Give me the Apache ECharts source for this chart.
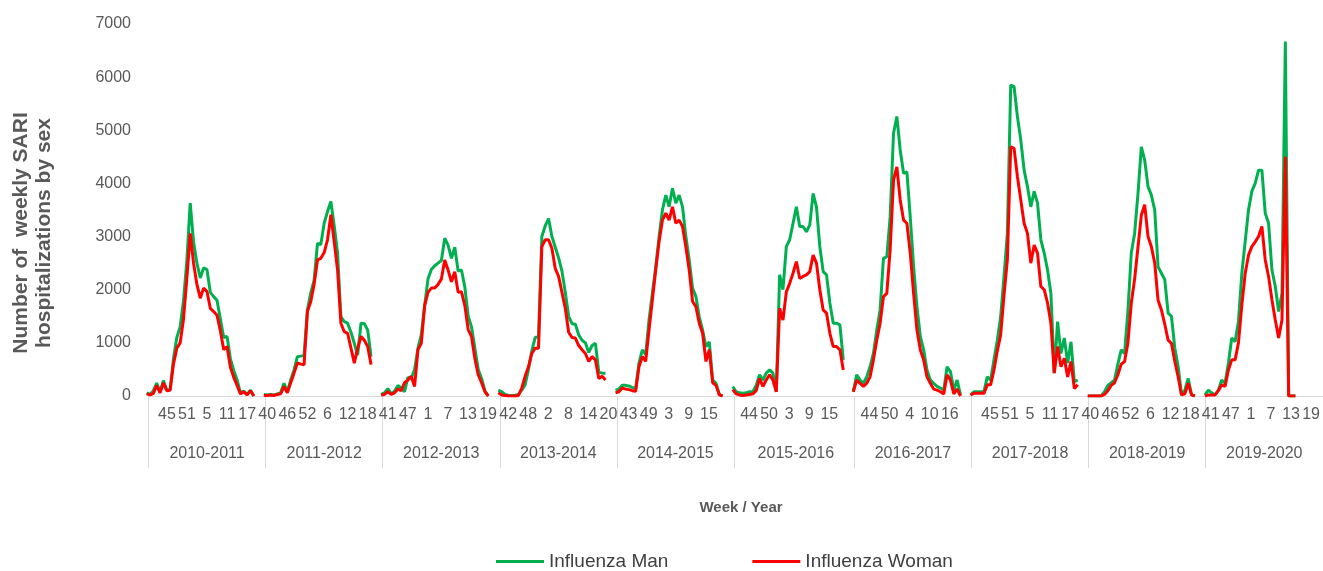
<!DOCTYPE html>
<html>
<head>
<meta charset="utf-8">
<script src="https://cdn.jsdelivr.net/npm/echarts@6/dist/echarts.min.js"></script>
<style>
  html, body { margin: 0; padding: 0; background: #fff; }
  #chart { width: 1323px; height: 571px; }
</style>
</head>
<body>
<div id="chart"></div>
<script>
// seasons and the weeks each one covers on the axis
var seasons = ['2010-2011', '2011-2012', '2012-2013', '2013-2014', '2014-2015',
               '2015-2016', '2016-2017', '2017-2018', '2018-2019', '2019-2020'];
var weeks35 = [40, 41, 42, 43, 44, 45, 46, 47, 48, 49, 50, 51, 52,
               1, 2, 3, 4, 5, 6, 7, 8, 9, 10, 11, 12, 13, 14, 15, 16, 17, 18, 19, 20, 21, 22];
var weeks36 = [40, 41, 42, 43, 44, 45, 46, 47, 48, 49, 50, 51, 52, 53,
               1, 2, 3, 4, 5, 6, 7, 8, 9, 10, 11, 12, 13, 14, 15, 16, 17, 18, 19, 20, 21, 22];

// week labels that are printed under each season
var tickWeeks = [
  [45, 51, 5, 11, 17],
  [40, 46, 52, 6, 12, 18],
  [41, 47, 1, 7, 13, 19],
  [42, 48, 2, 8, 14, 20],
  [43, 49, 3, 9, 15],
  [44, 50, 3, 9, 15],
  [44, 50, 4, 10, 16],
  [45, 51, 5, 11, 17],
  [40, 46, 52, 6, 12, 18],
  [41, 47, 1, 7, 13, 19]
];

// weekly SARI hospitalizations, men
var man2010 = [60, 30, 100, 245, 80, 290, 110, 120, 700, 1100, 1300, 1800, 2550, 3630, 2900, 2500, 2220, 2410, 2380, 1950, 1870, 1800, 1450, 1100, 1120, 700, 480, 300, 60, 90, 30, 110, 0];
var man2011 = [30, 20, 30, 20, 40, 60, 240, 80, 300, 490, 740, 750, 770, 1620, 1940, 2180, 2870, 2850, 3250, 3470, 3660, 3200, 2690, 1490, 1400, 1370, 1200, 990, 770, 1370, 1360, 1240, 740];
var man2012 = [30, 60, 140, 40, 90, 200, 150, 80, 350, 330, 500, 900, 1150, 1700, 2200, 2380, 2450, 2500, 2550, 2970, 2840, 2590, 2800, 2350, 2370, 2050, 1500, 1300, 900, 500, 330, 100, 0];
var man2013 = [110, 80, 30, 10, 10, 10, 30, 110, 210, 500, 850, 1100, 1120, 3000, 3200, 3340, 3000, 2800, 2600, 2350, 1950, 1500, 1360, 1350, 1150, 1050, 1000, 820, 950, 990, 450, 430, 430];
var man2014 = [110, 130, 200, 200, 190, 160, 140, 620, 870, 780, 1430, 1930, 2430, 3000, 3500, 3780, 3560, 3910, 3630, 3780, 3560, 3000, 2560, 2030, 1870, 1490, 1240, 930, 1020, 300, 240, 30, 0];
var man2015 = [180, 80, 60, 50, 60, 80, 80, 200, 400, 300, 430, 490, 430, 80, 2280, 2000, 2810, 2940, 3250, 3560, 3190, 3190, 3090, 3220, 3810, 3560, 2810, 2340, 2280, 1750, 1370, 1370, 1340, 680];
var man2016 = [80, 400, 300, 240, 360, 550, 800, 1240, 1620, 2590, 2620, 3370, 4940, 5260, 4630, 4190, 4220, 3370, 2430, 1680, 1120, 870, 490, 300, 240, 180, 150, 110, 550, 460, 110, 300, 20];
var man2017 = [20, 80, 80, 80, 80, 360, 300, 680, 1050, 1490, 2250, 3060, 5850, 5820, 5260, 4820, 4250, 3940, 3560, 3850, 3630, 2940, 2690, 2370, 1930, 430, 1400, 800, 1090, 620, 1020, 270, 300];
var man2018 = [0, 0, 0, 0, 0, 80, 200, 250, 300, 600, 870, 800, 1600, 2690, 3060, 3810, 4690, 4440, 3940, 3780, 3500, 2430, 2310, 2190, 1560, 1500, 900, 550, 20, 110, 330, 20, 0];
var man2019 = [20, 110, 60, 20, 110, 300, 240, 620, 1090, 1020, 1400, 2300, 2900, 3500, 3850, 4000, 4250, 4250, 3440, 3250, 2370, 2060, 1590, 1930, 6670, 0, 0, 0];

// weekly SARI hospitalizations, women
var woman2010 = [40, 20, 50, 200, 60, 250, 100, 110, 600, 900, 1000, 1450, 2220, 3060, 2500, 2100, 1840, 2030, 1970, 1650, 1590, 1520, 1230, 870, 930, 540, 350, 200, 40, 80, 20, 100, 0];
var woman2011 = [10, 10, 20, 10, 30, 40, 180, 60, 250, 430, 620, 600, 590, 1590, 1780, 2100, 2560, 2590, 2700, 2940, 3410, 2900, 2370, 1370, 1210, 1180, 900, 620, 900, 1120, 1050, 930, 590];
var woman2012 = [20, 30, 80, 30, 60, 130, 100, 250, 300, 370, 180, 870, 990, 1700, 1950, 2030, 2030, 2100, 2200, 2560, 2370, 2150, 2340, 1950, 1960, 1700, 1250, 1120, 700, 400, 250, 80, 0];
var woman2013 = [60, 20, 10, 0, 0, 0, 10, 150, 370, 550, 800, 900, 900, 2810, 2940, 2940, 2780, 2400, 2250, 1950, 1650, 1200, 1100, 1090, 950, 870, 800, 650, 740, 680, 330, 370, 300];
var woman2014 = [60, 80, 150, 130, 120, 100, 90, 550, 740, 650, 1240, 1810, 2370, 2900, 3310, 3440, 3310, 3560, 3250, 3310, 3190, 2810, 2370, 1780, 1680, 1370, 1180, 650, 870, 250, 200, 20, 0];
var woman2015 = [120, 40, 20, 10, 20, 30, 40, 100, 330, 180, 300, 400, 300, 80, 1650, 1430, 1960, 2120, 2310, 2530, 2210, 2250, 2280, 2340, 2650, 2500, 2000, 1620, 1560, 1180, 930, 930, 870, 490];
var woman2016 = [80, 300, 240, 180, 240, 360, 680, 1050, 1370, 1870, 1930, 2750, 4060, 4310, 3690, 3310, 3250, 2690, 1930, 1240, 870, 680, 360, 240, 130, 110, 80, 40, 400, 300, 40, 130, 0];
var woman2017 = [20, 50, 50, 50, 50, 210, 210, 490, 850, 1150, 1900, 2560, 4690, 4660, 4130, 3690, 3250, 3060, 2500, 2840, 2690, 2060, 2000, 1750, 1370, 430, 930, 550, 710, 360, 650, 140, 210];
var woman2018 = [0, 0, 0, 0, 0, 30, 100, 200, 250, 400, 600, 650, 1000, 1750, 2200, 2800, 3400, 3600, 3000, 2810, 2500, 1800, 1620, 1350, 1050, 990, 650, 360, 20, 40, 240, 20, 0];
var woman2019 = [0, 20, 20, 20, 100, 210, 180, 490, 680, 680, 1000, 1700, 2300, 2650, 2810, 2900, 3000, 3190, 2560, 2250, 1810, 1430, 1090, 1430, 4500, 0, 0, 0];

var manSeasons = [man2010, man2011, man2012, man2013, man2014, man2015, man2016, man2017, man2018, man2019];
var womanSeasons = [woman2010, woman2011, woman2012, woman2013, woman2014, woman2015, woman2016, woman2017, woman2018, woman2019];

var yTicks = { min: 0, max: 7000, step: 1000 };

// build the flat category list and the padded series
var categories = [];
var weekShown = [];
var seasonStart = [];
var seasonMid = [];
var manData = [];
var womanData = [];
seasons.forEach(function (s, k) {
  var wk = s === '2015-2016' ? weeks36 : weeks35;
  seasonStart.push(categories.length);
  seasonMid.push(categories.length + Math.floor(wk.length / 2));
  wk.forEach(function (w, j) {
    categories.push(s + '|' + w);
    weekShown.push(tickWeeks[k].indexOf(w) >= 0);
    manData.push(j < manSeasons[k].length ? manSeasons[k][j] : null);
    womanData.push(j < womanSeasons[k].length ? womanSeasons[k][j] : null);
  });
});

var grey = '#595959';
var font = 'Liberation Sans, Arial, sans-serif';
var chart = echarts.init(document.getElementById('chart'), null, { renderer: 'canvas' });

chart.setOption({
  animation: false,
  backgroundColor: '#fff',
  textStyle: { fontFamily: font },
  grid: [
    { left: 145, top: 24, width: 1175.5, height: 372 },
    { left: 148.5, top: 24, width: 1175.5, height: 372 }
  ],
  xAxis: [
    { gridIndex: 0, type: 'category', data: categories, show: false, boundaryGap: true },
    {
      gridIndex: 1, type: 'category', data: categories, boundaryGap: true,
      axisLine: { lineStyle: { color: '#d9d9d9', width: 1 } },
      axisTick: { show: false },
      axisLabel: {
        interval: function (i) { return weekShown[i]; },
        formatter: function (v) { return v.split('|')[1]; },
        color: grey, fontSize: 16, margin: 11, hideOverlap: false
      }
    },
    {
      gridIndex: 1, type: 'category', data: categories, boundaryGap: true, position: 'bottom',
      axisLine: { show: false },
      axisTick: {
        show: true, length: 72, inside: false,
        interval: function (i) { return seasonStart.indexOf(i) >= 0; },
        lineStyle: { color: '#d9d9d9', width: 1 }
      },
      axisLabel: {
        interval: function (i) { return seasonMid.indexOf(i) >= 0; },
        formatter: function (v) { return v.split('|')[0]; },
        color: grey, fontSize: 16, margin: 50, hideOverlap: false
      }
    }
  ],
  yAxis: [
    {
      gridIndex: 0, type: 'value', min: yTicks.min, max: yTicks.max, interval: yTicks.step,
      axisLine: { show: false }, axisTick: { show: false }, splitLine: { show: false },
      axisLabel: { color: grey, fontSize: 16, margin: 14, formatter: function (v) { return String(v); } }
    },
    { gridIndex: 1, type: 'value', min: yTicks.min, max: yTicks.max, show: false, splitLine: { show: false } }
  ],
  legend: {
    left: 491, top: 547, itemGap: 84, itemWidth: 48, itemHeight: 3, icon: 'rect',
    textStyle: { color: '#404040', fontSize: 19 },
    data: ['Influenza Man', 'Influenza Woman']
  },
  graphic: [
    {
      type: 'text', x: 33, y: 233, rotation: Math.PI / 2,
      style: {
        text: 'Number of  weekly SARI\nhospitalizations by sex',
        font: 'bold 21px Liberation Sans', fill: grey,
        align: 'center', verticalAlign: 'middle', lineHeight: 23
      }
    },
    {
      type: 'text', x: 741, y: 508,
      style: {
        text: 'Week / Year', font: 'bold 15px Liberation Sans', fill: grey,
        align: 'center', verticalAlign: 'middle'
      }
    }
  ],
  series: [
    {
      name: 'Influenza Man', type: 'line', xAxisIndex: 0, yAxisIndex: 0,
      data: manData, symbol: 'none', connectNulls: false,
      itemStyle: { color: '#00b050' }, lineStyle: { color: '#00b050', width: 3 }
    },
    {
      name: 'Influenza Woman', type: 'line', xAxisIndex: 0, yAxisIndex: 0,
      data: womanData, symbol: 'none', connectNulls: false,
      itemStyle: { color: '#ff0000' }, lineStyle: { color: '#ff0000', width: 3 }
    }
  ]
});
</script>
</body>
</html>
